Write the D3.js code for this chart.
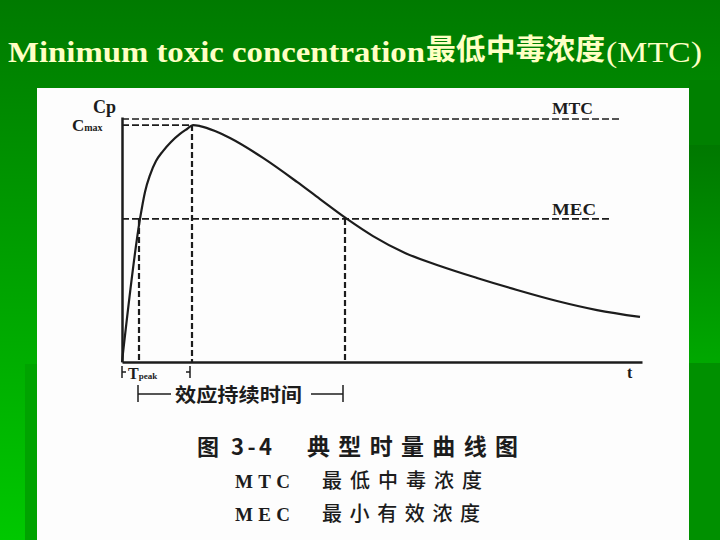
<!DOCTYPE html>
<html>
<head>
<meta charset="utf-8">
<script src="https://cdn.jsdelivr.net/npm/d3@7"></script>
<style>
  html, body { margin: 0; padding: 0; background: #008000; }
  svg { display: block; }
</style>
</head>
<body>
<div id="chart"></div>
<script>
var width = 720;
var height = 540;

// concentration-time curve
var times = [0, 0.9, 1.15, 1.4, 1.7, 2.05, 2.45, 2.9, 3.25, 3.55, 3.9, 4.65, 5.4, 7.05, 8.75, 9.9, 11.25, 12.55, 14.15, 15.9, 17.75, 19.75, 21.75, 23.75, 25.9];
var conc = [0, 58.4, 69.4, 76.3, 82.0, 86.1, 89.8, 93.1, 95.1, 96.7, 96.3, 94.3, 91.4, 83.3, 73.5, 66.5, 58.4, 51.4, 44.5, 39.2, 34.3, 29.4, 24.9, 21.2, 18.4];

// reference levels
var levelNames = ["MTC", "Cmax", "MEC"];
var levelValues = [99.2, 96.7, 58.4];
var levelEnds = [25, 3.5, 24.4];

// times where dashed verticals drop to the axis
var markTimes = [0.85, 3.5, 11.15];
var markLevels = [58.4, 96.7, 58.4];

var titleEn = "Minimum toxic concentration";
var titleCn = "最低中毒浓度";
var titleAbbr = "(MTC)";
var captionLines = ["典型时量曲线图", "最低中毒浓度", "最小有效浓度"];
var captionKeys = ["图 3-4", "MTC", "MEC"];

var ink = "#1c1c1c";
var serif = "'Liberation Serif', 'DejaVu Serif', serif";
var cjk = "'Noto Sans CJK SC', sans-serif";

var svg = d3.select("#chart").append("svg")
    .attr("width", width)
    .attr("height", height);

var defs = svg.append("defs");
var bg = defs.append("linearGradient").attr("id", "bg")
    .attr("x1", 0).attr("y1", 0).attr("x2", 0).attr("y2", 1);
bg.append("stop").attr("offset", "0%").attr("stop-color", "#007a00");
bg.append("stop").attr("offset", "100%").attr("stop-color", "#00c800");

var side = defs.append("linearGradient").attr("id", "side")
    .attr("x1", 0).attr("y1", 0).attr("x2", 0).attr("y2", 1);
side.append("stop").attr("offset", "0%").attr("stop-color", "#007800");
side.append("stop").attr("offset", "100%").attr("stop-color", "#00a800");

svg.append("rect").attr("width", width).attr("height", height).attr("fill", "url(#bg)");
// darker slide strips
svg.append("rect").attr("x", 689).attr("y", 80).attr("width", 31).attr("height", 65).attr("fill", "#008000");
svg.append("rect").attr("x", 689).attr("y", 145).attr("width", 31).attr("height", 218).attr("fill", "url(#side)");
svg.append("rect").attr("x", 689).attr("y", 363).attr("width", 31).attr("height", 177).attr("fill", "#009000");
svg.append("rect").attr("x", 25).attr("y", 364).attr("width", 12).attr("height", 176).attr("fill", "#00a300");

// title
svg.append("text").attr("x", 8).attr("y", 62)
    .attr("font-family", serif).attr("font-weight", "bold").attr("font-size", 30)
    .attr("textLength", 417).attr("lengthAdjust", "spacingAndGlyphs")
    .attr("fill", "#ffffc4").text(titleEn);
svg.append("text").attr("x", 426).attr("y", 60)
    .attr("font-family", cjk).attr("font-weight", "bold").attr("font-size", 29)
    .attr("textLength", 179).attr("lengthAdjust", "spacingAndGlyphs")
    .attr("fill", "#ffffc4").text(titleCn);
svg.append("text").attr("x", 606).attr("y", 62)
    .attr("font-family", serif).attr("font-size", 30)
    .attr("textLength", 96).attr("lengthAdjust", "spacingAndGlyphs")
    .attr("fill", "#ffffc4").text(titleAbbr);

// scanned page
svg.append("rect").attr("x", 37).attr("y", 88).attr("width", 652).attr("height", 452).attr("fill", "#fdfdfd");

var x = d3.scaleLinear().domain([0, 26]).range([122, 642]);
var y = d3.scaleLinear().domain([0, 100]).range([362, 117]);

// axes without ticks
svg.append("g").attr("transform", "translate(0,362)")
    .call(d3.axisBottom(x).tickValues([]).tickSizeOuter(0))
    .select(".domain").attr("stroke", ink).attr("stroke-width", 2.5);
svg.append("g").attr("transform", "translate(122,0)")
    .call(d3.axisLeft(y).tickValues([]).tickSizeOuter(0))
    .select(".domain").attr("stroke", ink).attr("stroke-width", 2.5);

// horizontal dashed levels
svg.selectAll(".level").data(levelValues).enter().append("line")
    .attr("class", "level")
    .attr("x1", x(0))
    .attr("x2", function (d, i) { return x(levelEnds[i]); })
    .attr("y1", function (d) { return y(d); })
    .attr("y2", function (d) { return y(d); })
    .attr("stroke", ink).attr("stroke-width", 1.6)
    .attr("stroke-dasharray", "7,3");

// vertical dashed drops
svg.selectAll(".drop").data(markTimes).enter().append("line")
    .attr("class", "drop")
    .attr("x1", function (d) { return x(d); })
    .attr("x2", function (d) { return x(d); })
    .attr("y1", function (d, i) { return y(markLevels[i]); })
    .attr("y2", y(0))
    .attr("stroke", ink).attr("stroke-width", 2.2)
    .attr("stroke-dasharray", "6,3");

// the curve
var points = times.map(function (t, i) { return [t, conc[i]]; });
var line = d3.line()
    .x(function (d) { return x(d[0]); })
    .y(function (d) { return y(d[1]); })
    .curve(d3.curveMonotoneX);
svg.append("path").datum(points)
    .attr("d", line)
    .attr("fill", "none")
    .attr("stroke", ink)
    .attr("stroke-width", 2.2);

// axis labels
var lab = svg.append("g").attr("font-family", serif).attr("font-weight", "bold").attr("fill", ink);
lab.append("text").attr("x", 93).attr("y", 113).attr("font-size", 18).text("Cp");
var cm = lab.append("text").attr("x", 72).attr("y", 131).attr("font-size", 17);
cm.append("tspan").text("C");
cm.append("tspan").attr("font-size", 10).text("max");
lab.append("text").attr("x", 552).attr("y", 114).attr("font-size", 16)
    .attr("textLength", 41).attr("lengthAdjust", "spacingAndGlyphs").text(levelNames[0]);
lab.append("text").attr("x", 552).attr("y", 215).attr("font-size", 16)
    .attr("textLength", 44).attr("lengthAdjust", "spacingAndGlyphs").text(levelNames[2]);
lab.append("text").attr("x", 627).attr("y", 378).attr("font-size", 16).text("t");

// Tpeak bracket
var br = svg.append("g").attr("stroke", ink).attr("stroke-width", 1.5);
br.append("line").attr("x1", x(0)).attr("x2", x(0)).attr("y1", 366).attr("y2", 378);
br.append("line").attr("x1", x(0)).attr("x2", x(0) + 4).attr("y1", 372).attr("y2", 372);
br.append("line").attr("x1", x(3.4)).attr("x2", x(3.4)).attr("y1", 366).attr("y2", 378);
br.append("line").attr("x1", x(3.4) - 4).attr("x2", x(3.4)).attr("y1", 372).attr("y2", 372);
var tp = lab.append("text").attr("x", 128).attr("y", 379).attr("font-size", 16);
tp.append("tspan").text("T");
tp.append("tspan").attr("font-size", 9).text("peak");

// duration bracket
var x1 = x(0.8), x2 = x(11.05);
br.append("line").attr("x1", x1).attr("x2", x1).attr("y1", 385).attr("y2", 402);
br.append("line").attr("x1", x1).attr("x2", 171).attr("y1", 394).attr("y2", 394);
br.append("line").attr("x1", 311).attr("x2", x2).attr("y1", 394).attr("y2", 394);
br.append("line").attr("x1", x2).attr("x2", x2).attr("y1", 385).attr("y2", 402);
svg.append("text").attr("x", 175).attr("y", 402)
    .attr("font-family", cjk).attr("font-weight", "bold").attr("font-size", 19)
    .attr("textLength", 127).attr("lengthAdjust", "spacingAndGlyphs")
    .attr("fill", ink).text("效应持续时间");

// caption
var capY = [455, 488, 521];
var keyX = [197, 235, 235];
var keyLen = [75, 55, 55];
var textX = [307, 322, 322];
var textLen = [211, 160, 158];
var keySize = [22, 19, 19];
captionKeys.forEach(function (k, i) {
    svg.append("text").attr("x", keyX[i]).attr("y", capY[i])
        .attr("font-family", i === 0 ? cjk : serif).attr("font-weight", "bold")
        .attr("font-size", keySize[i])
        .attr("textLength", keyLen[i]).attr("lengthAdjust", "spacing")
        .attr("fill", ink).text(k);
    svg.append("text").attr("x", textX[i]).attr("y", capY[i])
        .attr("font-family", cjk).attr("font-weight", i === 0 ? "bold" : "500")
        .attr("font-size", keySize[i] + 1)
        .attr("textLength", textLen[i]).attr("lengthAdjust", "spacing")
        .attr("fill", ink).text(captionLines[i]);
});
</script>
</body>
</html>
